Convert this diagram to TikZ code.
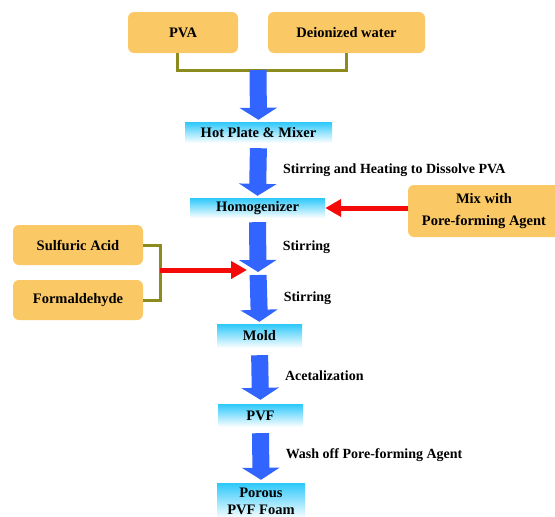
\documentclass[tikz,border=0pt]{standalone}
\usepackage{fontspec}
\setmainfont{Liberation Serif}
\usetikzlibrary{
    positioning,
    arrows.meta
}
\definecolor{boxOrange}{RGB}{250, 200, 100}
\definecolor{stepCyan}{RGB}{45, 200, 250}
\definecolor{flowBlue}{RGB}{50, 100, 255}
\definecolor{feedRed}{RGB}{245, 10, 10}
\definecolor{joinOlive}{RGB}{140, 140, 30}

\tikzset{
    srcbox/.style={rounded corners=6pt, fill=boxOrange, inner sep=0pt,
        font=\bfseries\fontsize{14.5}{17}\selectfont, align=center},
    stepbox/.style={top color=stepCyan, bottom color=white, inner sep=0pt,
        font=\bfseries\fontsize{14.5}{17}\selectfont, align=center},
    flowarrow/.style={draw=flowBlue, line width=17pt,
        -{Triangle[width=37pt, length=12pt]}},
    feedarrow/.style={draw=feedRed, line width=5pt,
        -{Triangle[width=17pt, length=16pt]}},
    bracket/.style={draw=joinOlive, line width=3pt},
    steplabel/.style={midway, right=25pt, inner sep=0pt, outer sep=0pt,
        font=\bfseries\fontsize{14}{17}\selectfont}
}

\begin{document}
\begin{tikzpicture}[x=1pt, y=-1pt]
        \useasboundingbox (0, 0) rectangle (555, 517);
        \begin{scope}
        \clip (0, 0) rectangle (555, 517);

        % Raw materials
        \node[srcbox, minimum width=110pt, minimum height=41pt] (pva) at (183, 32.5) {PVA};
        \node[srcbox, minimum width=157pt, minimum height=41pt] (water) at (346.5, 32.5) {Deionized water};
        \node[srcbox, minimum width=152pt, minimum height=52pt] (mix) at (484, 211) {Mix with\\[5pt]Pore-forming Agent};
        \node[srcbox, minimum width=130pt, minimum height=40pt] (sulf) at (78, 245) {Sulfuric Acid};
        \node[srcbox, minimum width=130pt, minimum height=40pt] (form) at (78, 300) {Formaldehyde};

        % Process steps
        \node[stepbox, minimum width=147pt, minimum height=21pt] (hot) at (258.5, 132.5) {Hot Plate \& Mixer};
        \node[stepbox, minimum width=135pt, minimum height=20pt] (homog) at (257.5, 208) {Homogenizer};
        \node[stepbox, minimum width=85pt, minimum height=24pt] (mold) at (259.5, 336) {Mold};
        \node[stepbox, minimum width=85pt, minimum height=23pt] (pvf) at (260.5, 415.5) {PVF};
        \node[stepbox, minimum width=88pt, minimum height=36pt] (foam) at (261, 501) {Porous\\PVF Foam};

        \coordinate (topjoin) at (258, 70);
        \coordinate (leftjoin) at (160, 270);
        \coordinate (junc) at (258, 272);

        % Brackets
        \draw[bracket] ([xshift=-6pt]pva.south) |- (topjoin) -| (water.south);
        \draw[bracket] (sulf.east) -| (leftjoin) |- (form.east);

        % Flow arrows
        \draw[flowarrow, shorten >=2pt] (topjoin) -- (hot.north);
        \draw[flowarrow, shorten <=5pt, shorten >=2pt] (hot.south) -- (homog.north)
            node[steplabel] {Stirring and Heating to Dissolve PVA};
        \draw[flowarrow, shorten <=4pt] (homog.south) -- (junc)
            node[steplabel, yshift=-2pt] {Stirring};
        \draw[flowarrow, shorten <=3pt, shorten >=2pt] (junc) -- (mold.north)
            node[steplabel] {Stirring};
        \draw[flowarrow, shorten <=7pt, shorten >=4pt] (mold.south) -- (pvf.north)
            node[steplabel] {Acetalization};
        \draw[flowarrow, shorten <=6pt, shorten >=3pt] (pvf.south) -- (foam.north)
            node[steplabel] {Wash off Pore-forming Agent};

        % Feed arrows
        \draw[feedarrow] (mix.west |- homog.east) -- (homog.east);
        \draw[feedarrow, shorten >=11pt] (leftjoin) -- (leftjoin -| junc);
        \end{scope}
    \end{tikzpicture}
\end{document}
